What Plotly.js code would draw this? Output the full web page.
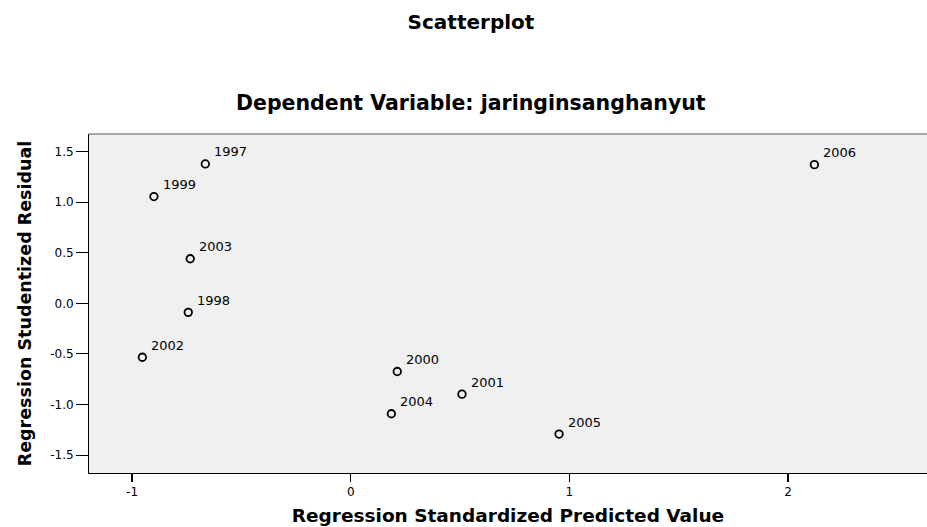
<!DOCTYPE html>
<html>
<head>
<meta charset="utf-8">
<script src="https://cdn.plot.ly/plotly-3.0.1.min.js"></script>
<style>html,body{margin:0;padding:0;background:#fff;}#chart{width:927px;height:527px;}</style>
</head>
<body>
<div id="chart"></div>
<script>
// Data
const years = ['1997','1999','2003','1998','2002','2000','2001','2004','2005','2006'];
const predicted = [-0.665, -0.900, -0.734, -0.743, -0.953, 0.213, 0.509, 0.186, 0.953, 2.121];
const residual = [1.379, 1.056, 0.441, -0.089, -0.533, -0.674, -0.898, -1.092, -1.293, 1.372];

const xTickVals = [-1, 0, 1, 2];
const xTickText = ['-1', '0', '1', '2'];
const yTickVals = [-1.5, -1.0, -0.5, 0.0, 0.5, 1.0, 1.5];
const yTickText = ['-1.5', '-1.0', '-0.5', '0.0', '0.5', '1.0', '1.5'];

const FONT = 'DejaVu Sans, Arial, sans-serif';

const trace = {
  type: 'scatter',
  mode: 'markers',
  x: predicted,
  y: residual,
  text: years,
  marker: {symbol: 'circle-open', size: 7.5, color: '#000', line: {width: 1.8, color: '#000'}},
  hoverinfo: 'text+x+y',
  showlegend: false
};

const pointLabels = years.map((t, i) => ({
  x: predicted[i], y: residual[i], xref: 'x', yref: 'y',
  text: t, showarrow: false, xanchor: 'left', yanchor: 'middle',
  xshift: 7, yshift: 12,
  font: {family: FONT, size: 13, color: '#000'}
}));

const layout = {
  width: 927, height: 527,
  margin: {l: 89, r: 0, t: 134, b: 54, pad: 0},
  paper_bgcolor: '#ffffff',
  plot_bgcolor: '#f0f0f0',
  font: {family: FONT, color: '#000'},
  title: {
    text: 'Scatterplot',
    font: {family: FONT, size: 20, weight: 700, color: '#000'},
    x: 471 / 927, xref: 'container', xanchor: 'center',
    y: 1 - 21.5 / 527, yref: 'container', yanchor: 'middle'
  },
  xaxis: {
    range: [-1.197, 2.636],
    tickmode: 'array', tickvals: xTickVals, ticktext: xTickText,
    ticks: 'outside', ticklen: 8, tickwidth: 1.5, tickcolor: '#000',
    showline: true, linecolor: '#000', linewidth: 1,
    showgrid: false, zeroline: false,
    tickfont: {family: FONT, size: 12, color: '#000'},
    title: {text: 'Regression Standardized Predicted Value', standoff: 10,
            font: {family: FONT, size: 18.5, weight: 700, color: '#000'}}
  },
  yaxis: {
    range: [-1.678, 1.675],
    tickmode: 'array', tickvals: yTickVals, ticktext: yTickText,
    ticks: 'outside', ticklen: 12, tickwidth: 1, tickcolor: '#000',
    showline: true, linecolor: '#000', linewidth: 1,
    showgrid: false, zeroline: false,
    tickfont: {family: FONT, size: 12, color: '#000'},
    title: {text: 'Regression Studentized Residual', standoff: 14,
            font: {family: FONT, size: 17.5, weight: 700, color: '#000'}}
  },
  shapes: [{
    type: 'line', xref: 'paper', yref: 'paper', x0: 0, x1: 1, y0: 1, y1: 1,
    line: {color: '#8c8c8c', width: 1.5}
  }],
  annotations: [{
    text: 'Dependent Variable: jaringinsanghanyut',
    xref: 'paper', yref: 'paper', x: (470.5 - 89) / 838, y: (473 - 103) / 339,
    xanchor: 'center', yanchor: 'middle', showarrow: false,
    font: {family: FONT, size: 20.5, weight: 700, color: '#000'}
  }].concat(pointLabels)
};

Plotly.newPlot('chart', [trace], layout, {displayModeBar: false, staticPlot: true});
</script>
</body>
</html>
